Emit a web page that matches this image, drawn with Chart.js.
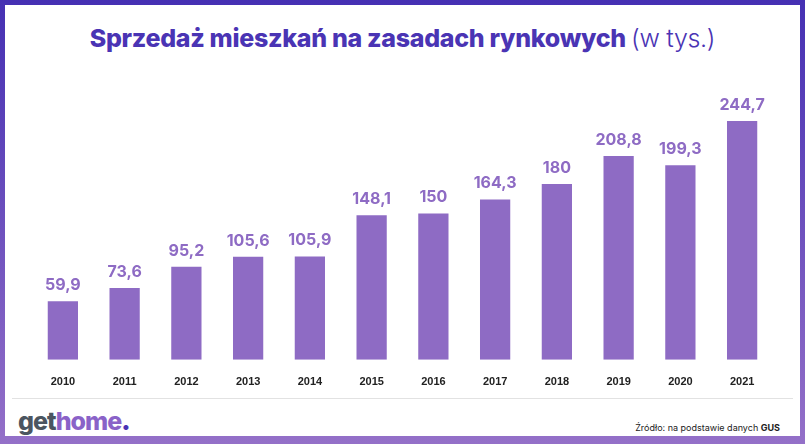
<!DOCTYPE html>
<html><head><meta charset="utf-8">
<script src="https://cdn.jsdelivr.net/npm/chart.js@4"></script>
<style>
body{margin:0;font-family:Inter,sans-serif}
#frame{position:relative;width:805px;height:444px;background:linear-gradient(#4530b3,#9470c8)}
#inner{position:absolute;left:5px;top:5px;width:795px;height:431px;background:#fff}
#title{position:absolute;top:18px;width:100%;text-align:center;font-size:25px;font-weight:800;color:#4a34b4;letter-spacing:-0.3px}
#title span{font-weight:300}
#wrap{position:absolute;left:0;top:55px;width:795px;height:343px}
#sep{position:absolute;left:7px;right:7px;top:393px;border-top:1px solid #e2e2e2}
#logo{position:absolute;left:13px;top:401px;font-size:25px;font-weight:800;letter-spacing:-1px;color:#4b5560}
#logo span{color:#8a62c8}#logo b{color:#4a34b4}
#src{position:absolute;right:20px;top:417px;font-size:9px;color:#222}
</style></head><body>
<div id="frame"><div id="inner">
<div id="title">Sprzedaż mieszkań na zasadach rynkowych <span>(w tys.)</span></div>
<div id="wrap"><canvas id="c"></canvas></div>
<div id="sep"></div>
<div id="logo">get<span>home</span><b>.</b></div>
<div id="src">Źródło: na podstawie danych <b>GUS</b></div>
</div></div>
<script>
const years = ['2010','2011','2012','2013','2014','2015','2016','2017','2018','2019','2020','2021'];
const sales = [59.9, 73.6, 95.2, 105.6, 105.9, 148.1, 150, 164.3, 180, 208.8, 199.3, 244.7];
const barColor = '#8e6bc4';

const valueLabels = {
  id: 'valueLabels',
  afterDatasetsDraw(chart) {
    const { ctx } = chart;
    ctx.save();
    ctx.font = '700 16px Inter, sans-serif';
    ctx.fillStyle = barColor;
    ctx.textAlign = 'center';
    ctx.textBaseline = 'bottom';
    chart.getDatasetMeta(0).data.forEach((bar, i) => {
      ctx.fillText(String(sales[i]).replace('.', ','), bar.x, bar.y - 8);
    });
    ctx.restore();
  }
};

new Chart(document.getElementById('c'), {
  type: 'bar',
  data: { labels: years, datasets: [{ data: sales, backgroundColor: barColor, barPercentage: 0.49, categoryPercentage: 1 }] },
  options: {
    responsive: true, maintainAspectRatio: false, animation: false,
    layout: { padding: { top: 46, left: 27, right: 27, bottom: 6 } },
    plugins: { legend: { display: false }, tooltip: { enabled: false } },
    scales: {
      x: { grid: { display: false }, border: { display: false },
           ticks: { color: '#222', font: { size: 11, weight: '700' }, padding: 8 } },
      y: { display: false, min: 0, max: 260 }
    }
  },
  plugins: [valueLabels]
});
</script></body></html>
